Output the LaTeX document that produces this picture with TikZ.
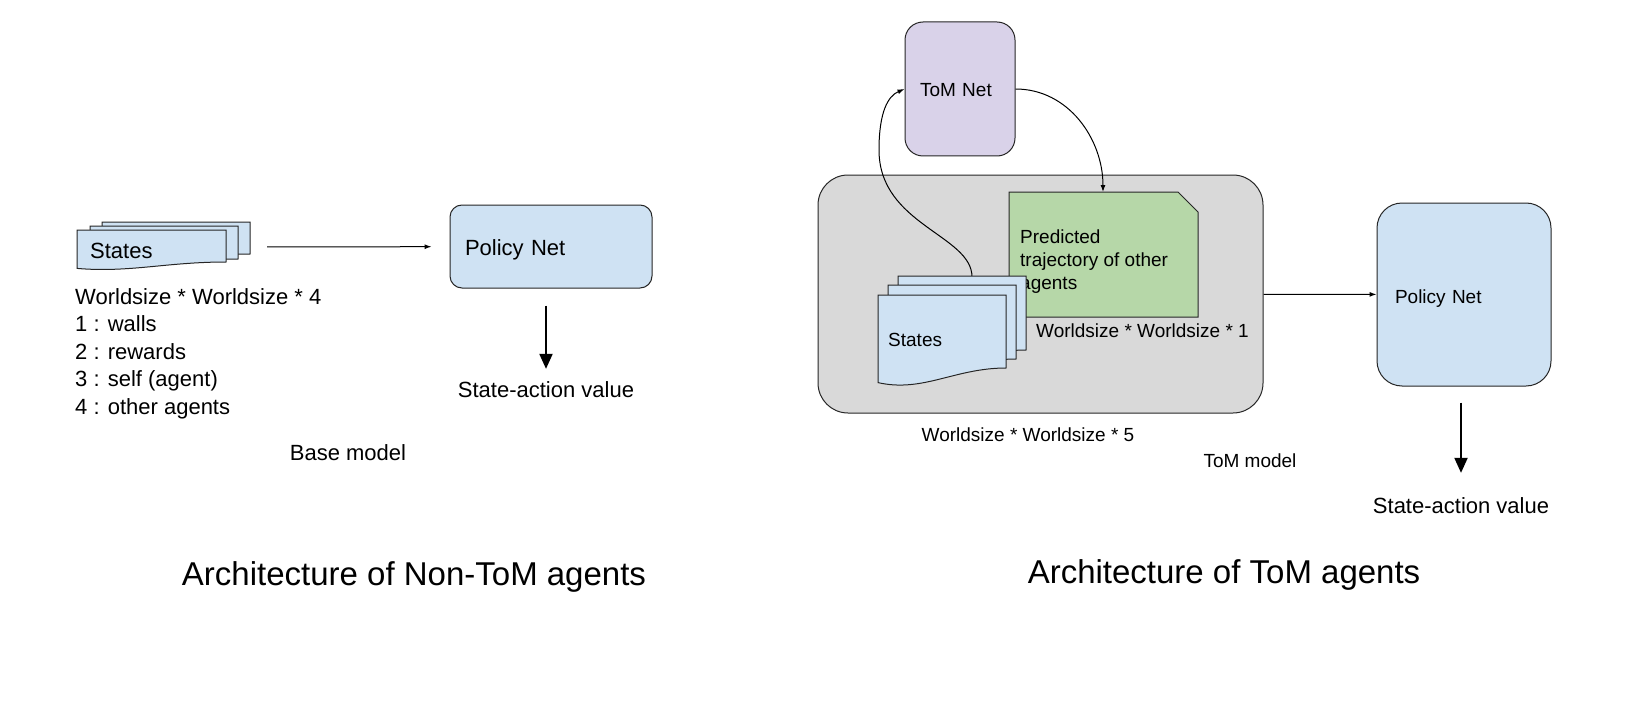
\documentclass[tikz,border=0pt]{standalone}
\usepackage{fontspec}
\setmainfont{Liberation Sans}
\usetikzlibrary{arrows.meta}
\definecolor{sheetblue}{HTML}{CFE2F3}
\definecolor{tomlilac}{HTML}{D9D2E9}
\definecolor{boxgray}{HTML}{D9D9D9}
\definecolor{trajgreen}{HTML}{B6D7A8}
\tikzset{box/.style={draw=black!85, line width=1pt, align=left, inner ysep=0pt},
  sheet/.style={fill=sheetblue, draw=black!85, line width=1pt},
  thinarrow/.style={-{Latex[length=7pt,width=5pt]}, line width=1pt},
  bigarrow/.style={-{Triangle[length=15pt,width=13pt]}, line width=2pt},
  leftfont/.style={font=\fontsize{22}{27.5}\selectfont},
  rightfont/.style={font=\fontsize{19}{23}\selectfont},
  titlefont/.style={font=\fontsize{33}{40}\selectfont}}
\newcommand{\statesheet}[4]{%
  \filldraw[sheet] (#1,#2) -- ({#1+#3},#2) -- ({#1+#3},{#2+#4})
    .. controls ({#1+0.6*#3},{#2+#4}) and ({#1+0.35*#3},{#2+1.34*#4}) ..
    (#1,{#2+1.2*#4}) -- cycle;}

\begin{document}
\begin{tikzpicture}[x=1pt,y=-1pt]
  \useasboundingbox (0,0) rectangle (1644,706);

  \statesheet{102}{222}{148}{32}
  \statesheet{90}{226}{148}{33}
  \statesheet{77}{230}{149}{32}
  \node[leftfont, anchor=base west, inner sep=0] (statesA) at (90,258) {States};
  \coordinate (stackA) at (250,247);
  \node[box, fill=sheetblue, rounded corners=12pt, leftfont, minimum width=202pt, minimum height=83pt, text width=172pt, inner xsep=15pt, text height=17pt, text depth=0pt] (policyA) at (551,246.5) {Policy Net};
  \node[leftfont, anchor=north west, align=left, inner sep=0] (dimsA) at (75,288)
    {Worldsize * Worldsize * 4\\1 : walls\\2 : rewards\\3 : self (agent)\\4 : other agents};
  \node[leftfont, anchor=base, inner sep=0] (valueA) at (546,397) {State-action value};
  \node[leftfont, anchor=base, inner sep=0] (baseA) at (348,460) {Base model};
  \node[titlefont, anchor=base, inner sep=0] (titleA) at (414,585) {Architecture of Non-ToM agents};
  \draw[thinarrow, shorten <=17pt, shorten >=18pt] (stackA) -- (policyA);
  \draw[bigarrow, shorten <=17pt, shorten >=12pt] (valueA |- policyA.south) -- (valueA.north);

  \node[box, fill=boxgray, rounded corners=30pt, minimum width=445pt, minimum height=238pt] (tombox) at (1040.5,294) {};
  \node[box, fill=tomlilac, rounded corners=18pt, rightfont, minimum width=110pt, minimum height=134pt, text width=80pt, inner xsep=15pt, text height=16pt, text depth=0pt] (tomnet) at (960,89) {ToM Net};
  \filldraw[fill=trajgreen, draw=black!85, line width=1pt] (1009,192) -- (1178,192) -- (1198,212) -- (1198,317) -- (1009,317) -- cycle;
  \coordinate (trajtop) at (1103,192);
  \node[rightfont, anchor=north west, align=left, inner sep=0] (traj) at (1020,230) {Predicted\\trajectory of other\\agents};
  \node[rightfont, anchor=base west, inner sep=0] (dimsC) at (1036,337) {Worldsize * Worldsize * 1};
  \draw[thinarrow] (tomnet.east) to[out=0,in=90] (trajtop);
  \coordinate (stackB) at (972,277);
  \draw[thinarrow] (stackB) .. controls (972,235) and (879,225) .. (879,150)
    .. controls (879,112) and (888,96) .. (tomnet.west);
  \statesheet{898}{276}{128}{74}
  \statesheet{888}{285}{128}{74}
  \statesheet{878}{295}{128}{73}
  \node[rightfont, anchor=base west, inner sep=0] (statesB) at (888,346) {States};
  \node[rightfont, anchor=base, inner sep=0] (dimsB) at (1028,441) {Worldsize * Worldsize * 5};
  \node[rightfont, anchor=base, inner sep=0] (tomlabel) at (1250,467) {ToM model};

  \node[box, fill=sheetblue, rounded corners=25pt, rightfont, minimum width=174pt, minimum height=183pt, text width=138pt, inner xsep=18pt, text height=17pt, text depth=0pt] (policyB) at (1464,294.5) {Policy Net};
  \draw[thinarrow] (tombox) -- (policyB);
  \node[leftfont, anchor=base, inner sep=0] (valueB) at (1461,513) {State-action value};
  \draw[bigarrow, shorten <=16pt, shorten >=24pt] (valueB |- policyB.south) -- (valueB.north);
  \node[titlefont, anchor=base, inner sep=0] (titleB) at (1224,583) {Architecture of ToM agents};
\end{tikzpicture}
\end{document}
